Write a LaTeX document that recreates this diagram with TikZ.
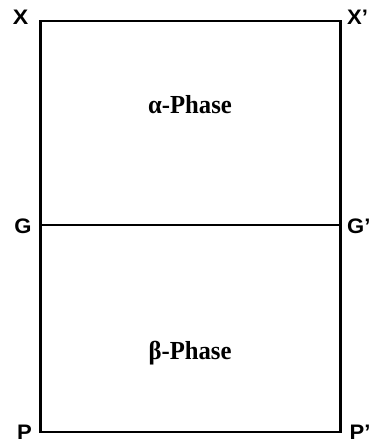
\documentclass[tikz,border=0pt]{standalone}
\usepackage{fontspec}
\setmainfont{Liberation Serif}
\newfontfamily\lblfont{Liberation Sans}
\usepackage{graphicx}
\begin{document}
\begin{tikzpicture}[x=1pt,y=1pt,
  frame/.style={line width=2.5pt, line cap=rect},
  corner/.style={inner sep=0pt, anchor=base, font=\lblfont\bfseries\fontsize{21}{21}\selectfont},
  cornerr/.style={inner sep=0pt, anchor=base west, font=\lblfont\bfseries\fontsize{21}{21}\selectfont},
  phase/.style={inner sep=0pt, anchor=base, font=\bfseries\fontsize{26}{26}\selectfont}]
\useasboundingbox (0,0) rectangle (373,443);
% corners (image y -> 443 - y)
\coordinate (tl) at (40.5,422);
\coordinate (tr) at (340.5,422);
\coordinate (ml) at (40.5,218);
\coordinate (mr) at (340.5,218);
\coordinate (bl) at (40.5,11);
\coordinate (br) at (340.5,11);
\draw[frame] (tl) -- (tr) -- (br) -- (bl) -- cycle;
\draw[frame] (ml) -- (mr);
% labels
\node[corner] (X) at (20.5,418) {\scalebox{1.1}[1]{X}};
\node[cornerr] (Xp) at (347,418) {\scalebox{1.05}[1]{X’}};
\node[corner] (G) at (23,209) {\scalebox{1.05}[1]{G}};
\node[cornerr] (Gp) at (347,209) {\scalebox{1.05}[1]{G’}};
\node[corner] (P) at (24.5,4) {\scalebox{1.05}[1]{P}};
\node[cornerr] (Pp) at (349.5,3.5) {\scalebox{1.05}[1]{P’}};
\node[phase] (alpha) at (190,329) {\scalebox{0.95}[1]{α-Phase}};
\node[phase] (beta) at (190,83) {\scalebox{0.95}[1]{β-Phase}};
\end{tikzpicture}
\end{document}
